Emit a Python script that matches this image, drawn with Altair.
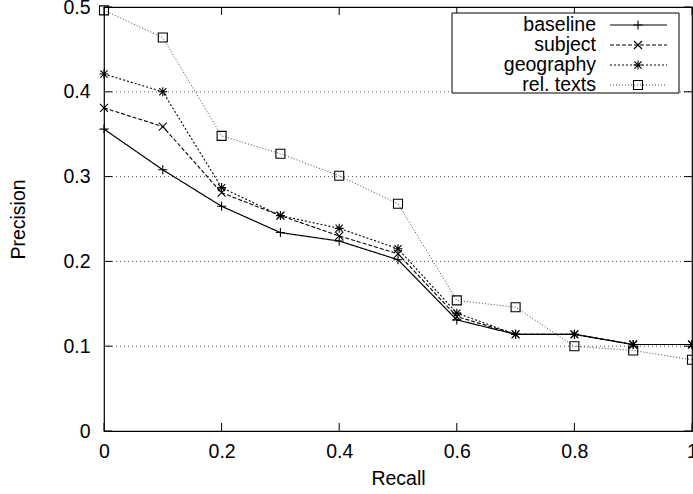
import altair as alt
import pandas as pd

# Precision at eleven standard recall levels for each retrieval run
recall = [0.0, 0.1, 0.2, 0.3, 0.4, 0.5, 0.6, 0.7, 0.8, 0.9, 1.0]
baseline = [0.356, 0.308, 0.265, 0.234, 0.224, 0.202, 0.131, 0.114, 0.114, 0.102, 0.102]
subject = [0.381, 0.359, 0.281, 0.254, 0.230, 0.209, 0.135, 0.114, 0.114, 0.102, 0.102]
geography = [0.421, 0.400, 0.287, 0.254, 0.239, 0.215, 0.139, 0.114, 0.114, 0.102, 0.102]
rel_texts = [0.496, 0.464, 0.348, 0.327, 0.301, 0.268, 0.154, 0.146, 0.100, 0.095, 0.084]

series_names = ["baseline", "subject", "geography", "rel. texts"]
series_values = [baseline, subject, geography, rel_texts]

x_ticks = [0, 0.2, 0.4, 0.6, 0.8, 1.0]
y_ticks = [0, 0.1, 0.2, 0.3, 0.4, 0.5]
grid_levels = [0.1, 0.2, 0.3, 0.4]

W, H = 588, 424
FONT = "Liberation Sans"
FS = 19.5

PLUS = "M-1,0L1,0M0,-1L0,1"
CROSS = "M-1,-1L1,1M-1,1L1,-1"
STAR = "M-1,0L1,0M0,-1L0,1M-0.8,-0.8L0.8,0.8M-0.8,0.8L0.8,-0.8"

styles = {
    "baseline": dict(dash=[1, 0], width=1.2, color="black", shape=PLUS, size=81),
    "subject": dict(dash=[4, 2], width=1.1, color="black", shape=CROSS, size=64),
    "geography": dict(dash=[2, 2], width=1.1, color="black", shape=STAR, size=81),
    "rel. texts": dict(dash=[1, 2], width=1.0, color="#444444", shape="square", size=81),
}

rows = []
for name, vals in zip(series_names, series_values):
    for r, p in zip(recall, vals):
        rows.append({"series": name, "recall": r, "precision": p})
df = pd.DataFrame(rows)

xscale = alt.Scale(domain=[0, 1], nice=False, zero=False)
yscale = alt.Scale(domain=[0, 0.5], nice=False)

x_axis = alt.Axis(values=x_ticks, format="~g", title="Recall", ticks=False,
                  domain=False, grid=False, labelPadding=11, labelFontSize=FS,
                  labelFont=FONT, labelColor="black", titleFont=FONT,
                  titleFontSize=FS, titleFontWeight="normal", titleColor="black",
                  titleY=47, titleBaseline="middle", labelFlush=False)
y_axis = alt.Axis(values=y_ticks, format="~g", title="Precision", ticks=False,
                  domain=False, grid=False, labelPadding=14, labelFontSize=FS,
                  labelFont=FONT, labelColor="black", titleFont=FONT,
                  titleFontSize=FS, titleFontWeight="normal", titleColor="black",
                  titleX=-86, titleBaseline="middle", labelFlush=False)

X = alt.X("recall:Q", scale=xscale, axis=x_axis)
Y = alt.Y("precision:Q", scale=yscale, axis=y_axis)

layers = []

# dotted horizontal grid
grid_df = pd.DataFrame({"precision": grid_levels})
layers.append(
    alt.Chart(grid_df).mark_rule(color="#555555", strokeDash=[1, 3], strokeWidth=1)
    .encode(y=Y, x=alt.value(0), x2=alt.value(W))
)

# series lines and markers
for name in series_names:
    st = styles[name]
    sub = df[df["series"] == name]
    layers.append(
        alt.Chart(sub).mark_line(color=st["color"], strokeDash=st["dash"],
                                 strokeWidth=st["width"])
        .encode(x=X, y=Y)
    )
    layers.append(
        alt.Chart(sub).mark_point(shape=st["shape"], filled=False, size=st["size"],
                                  stroke="black", strokeWidth=1.1, opacity=1)
        .encode(x=X, y=Y)
    )

# inward ticks on all four sides
xt_df = pd.DataFrame({"recall": x_ticks})
yt_df = pd.DataFrame({"precision": y_ticks})
TL = 8
layers.append(alt.Chart(xt_df).mark_rule(color="black").encode(
    x=X, y=alt.value(H), y2=alt.value(H - TL)))
layers.append(alt.Chart(xt_df).mark_rule(color="black").encode(
    x=X, y=alt.value(0), y2=alt.value(TL)))
layers.append(alt.Chart(yt_df).mark_rule(color="black").encode(
    y=Y, x=alt.value(0), x2=alt.value(TL)))
layers.append(alt.Chart(yt_df).mark_rule(color="black").encode(
    y=Y, x=alt.value(W - TL), x2=alt.value(W)))

# key box
one = pd.DataFrame({"k": [0]})
layers.append(
    alt.Chart(one).mark_rect(fill="white", stroke="black", strokeWidth=1)
    .encode(x=alt.value(348), x2=alt.value(575), y=alt.value(6), y2=alt.value(86))
)
for i, name in enumerate(series_names):
    st = styles[name]
    yy = 18 + i * 20
    layers.append(
        alt.Chart(one).mark_text(align="right", baseline="middle", font=FONT,
                                 fontSize=FS, color="black")
        .encode(x=alt.value(492), y=alt.value(yy), text=alt.value(name))
    )
    layers.append(
        alt.Chart(one).mark_rule(color=st["color"], strokeDash=st["dash"],
                                 strokeWidth=st["width"])
        .encode(x=alt.value(506), x2=alt.value(563), y=alt.value(yy))
    )
    layers.append(
        alt.Chart(one).mark_point(shape=st["shape"], filled=False, size=st["size"],
                                  stroke="black", strokeWidth=1.1, opacity=1)
        .encode(x=alt.value(534), y=alt.value(yy))
    )

chart = (
    alt.layer(*layers)
    .properties(width=W, height=H,
                autosize=alt.AutoSizeParams(type="none"),
                padding={"left": 104, "top": 7, "right": 1, "bottom": 63},
                background="white")
    .configure_view(stroke="black", strokeWidth=1.2)
)

chart.save("out.html", embed_options={"renderer": "svg", "actions": False})
